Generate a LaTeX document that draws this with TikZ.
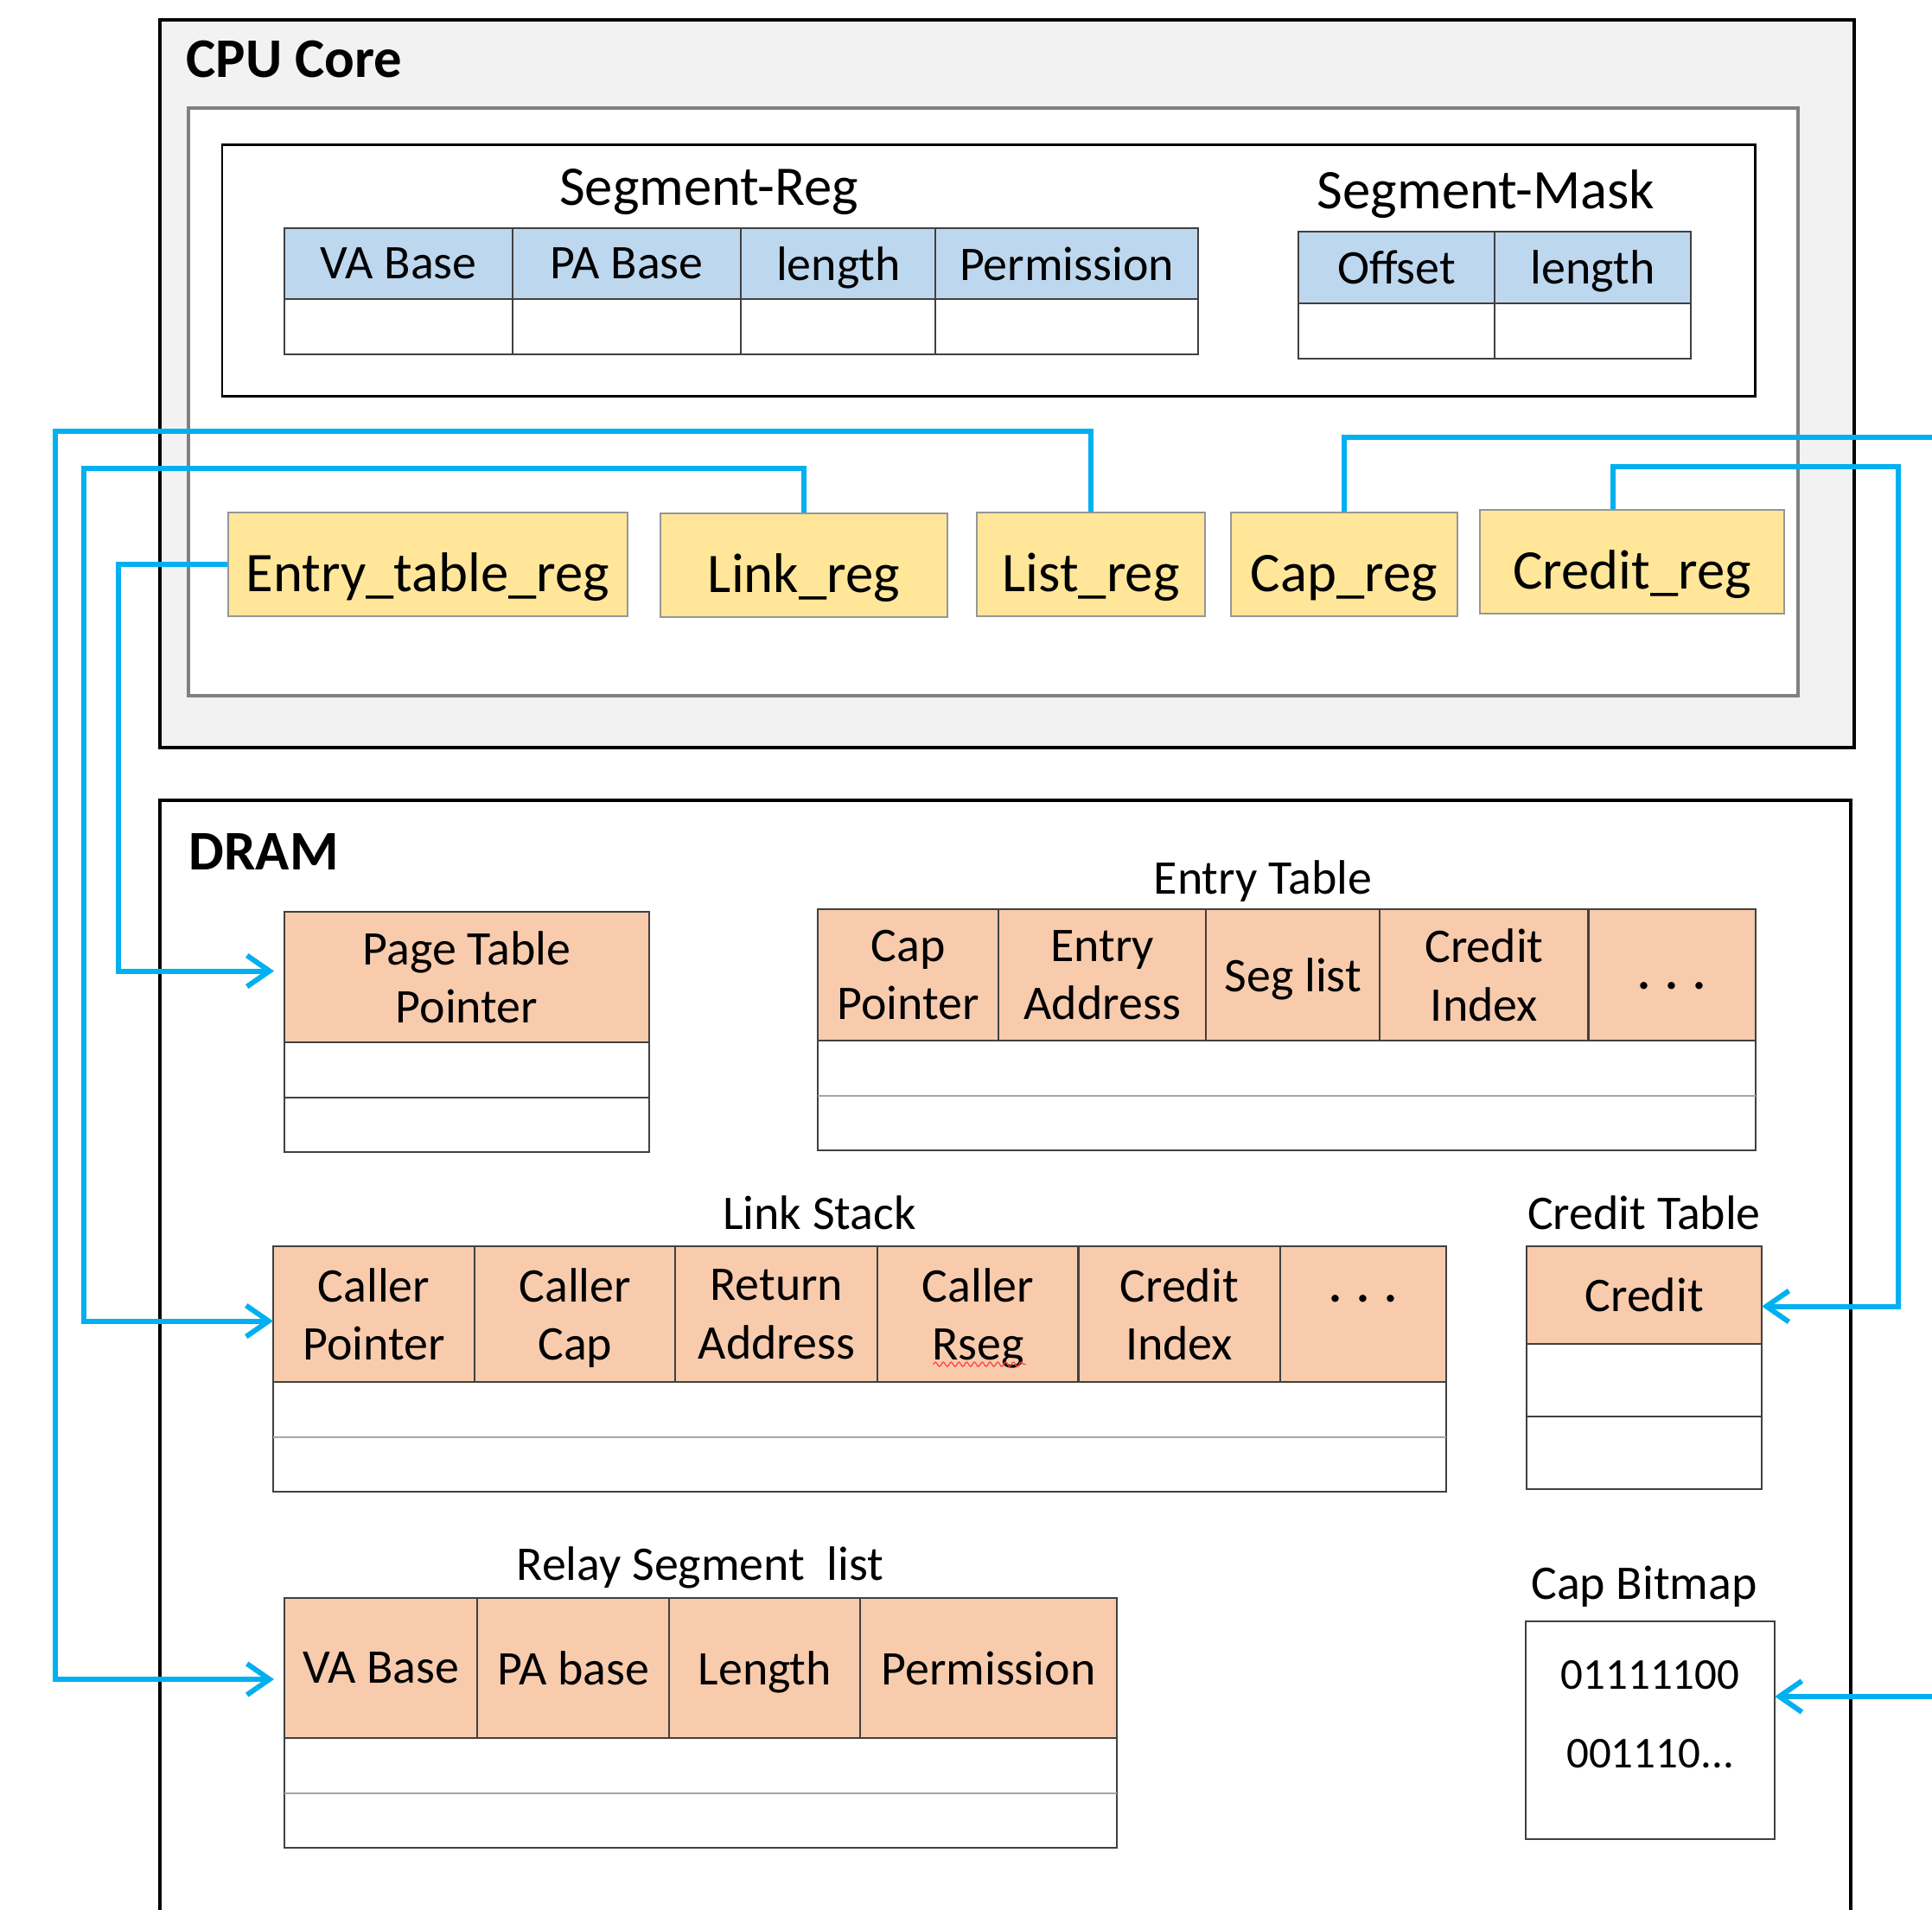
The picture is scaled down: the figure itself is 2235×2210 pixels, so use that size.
\documentclass[tikz,border=0pt]{standalone}
\usepackage{fontspec}
\setmainfont{Carlito}
\usetikzlibrary{positioning,calc,arrows.meta,decorations.pathmorphing}
\definecolor{corefill}{RGB}{242,242,242}
\definecolor{framegray}{RGB}{128,128,128}
\definecolor{cellline}{RGB}{64,64,64}
\definecolor{rowgray}{RGB}{165,165,165}
\definecolor{hdrblue}{RGB}{189,215,238}
\definecolor{hdrorange}{RGB}{248,203,173}
\definecolor{regyellow}{RGB}{255,230,153}
\definecolor{reggray}{RGB}{150,150,150}
\definecolor{wirecyan}{RGB}{0,176,240}

\newcommand{\bigsize}{\fontsize{18.4}{22}\selectfont}
\newcommand{\cellsize}{\fontsize{15.9}{19.1}\selectfont}
\newcommand{\bitsize}{\fontsize{14.5}{25.9}\selectfont}

\begin{document}
\begin{tikzpicture}[
    x=0.01cm, y=-0.01cm,
    cell/.style={rectangle, draw=cellline, fill=white, line width=0.6pt,
                 inner sep=0pt, outer sep=0pt, align=center,
                 text depth=0pt, font=\cellsize},
    hdr/.style={cell, fill=#1},
    regbox/.style={rectangle, draw=reggray, fill=regyellow, line width=0.6pt,
                   inner sep=0pt, minimum height=1.2cm,
                   text height=1.8em, text depth=0pt, font=\bigsize},
    title/.style={anchor=base west, inner sep=0pt, font=\bigsize\bfseries},
    caption/.style={anchor=base, inner sep=0pt, font=\bigsize},
    tcaption/.style={anchor=base, inner sep=0pt, font=\cellsize},
    rowline/.style={draw=rowgray, line width=0.6pt},
    wire/.style={draw=wirecyan, line width=1.7pt},
    feed/.style={wire, -{Straight Barb[length=0.26cm, width=0.36cm]}},
    squiggle/.style={draw=red!75, line width=0.35pt, decorate,
                     decoration={snake, amplitude=0.25mm, segment length=0.9mm}}
]
\useasboundingbox (0,0) rectangle (2235,2210);

% ---------------- CPU core ----------------
\draw[fill=corefill, line width=0.9pt] (185,23) rectangle (2145,865);
\node[title] (cpuTitle) at (215,90) {CPU Core};
\draw[fill=white, draw=framegray, line width=1.2pt] (218,125) rectangle (2080,805);
\draw[line width=0.85pt] (257,168) rectangle (2030,459);

% segment register
\node[caption] (srTitle) at (820,238) {Segment-Reg};
\node[hdr=hdrblue, anchor=north west, minimum width=2.64cm, minimum height=0.82cm] (srVA) at (329,264) {VA Base};
\node[hdr=hdrblue, minimum width=2.64cm, minimum height=0.82cm, right=0pt of srVA] (srPA) {PA Base};
\node[hdr=hdrblue, minimum width=2.25cm, minimum height=0.82cm, right=0pt of srPA] (srLen) {length};
\node[hdr=hdrblue, minimum width=3.03cm, minimum height=0.82cm, right=0pt of srLen] (srPerm) {Permission};
\node[cell, minimum width=2.64cm, minimum height=0.64cm, below=0pt of srVA] (srVA1) {};
\node[cell, minimum width=2.64cm, minimum height=0.64cm, below=0pt of srPA] (srPA1) {};
\node[cell, minimum width=2.25cm, minimum height=0.64cm, below=0pt of srLen] (srLen1) {};
\node[cell, minimum width=3.03cm, minimum height=0.64cm, below=0pt of srPerm] (srPerm1) {};

% segment mask
\node[caption] (smTitle) at (1719,242) {Segment-Mask};
\node[hdr=hdrblue, anchor=north west, minimum width=2.27cm, minimum height=0.83cm] (smOff) at (1502,268) {Offset};
\node[hdr=hdrblue, minimum width=2.27cm, minimum height=0.83cm, right=0pt of smOff] (smLen) {length};
\node[cell, minimum width=2.27cm, minimum height=0.64cm, below=0pt of smOff] (smOff1) {};
\node[cell, minimum width=2.27cm, minimum height=0.64cm, below=0pt of smLen] (smLen1) {};

% registers
\node[regbox, minimum width=4.62cm] (etr) at (495,653) {Entry\_table\_reg};
\node[regbox, minimum width=3.31cm] (lnk) at (930,654) {Link\_reg};
\node[regbox, minimum width=2.63cm] (lst) at (1262,653) {List\_reg};
\node[regbox, minimum width=2.62cm] (cap) at (1555,653) {Cap\_reg};
\node[regbox, minimum width=3.51cm] (crd) at (1888,650) {Credit\_reg};

% ---------------- DRAM ----------------
\draw[line width=0.9pt] (185,2210) |- (2141,926) -- (2141,2210);
\node[title] (dramTitle) at (218,1007) {DRAM};

% page table
\node[hdr=hdrorange, anchor=north west, minimum width=4.22cm, minimum height=1.51cm] (pgtHead) at (329,1055) {Page Table\\Pointer};
\node[cell, minimum width=4.22cm, minimum height=0.64cm, below=0pt of pgtHead] (pgt1) {};
\node[cell, minimum width=4.22cm, minimum height=0.63cm, below=0pt of pgt1] (pgt2) {};

% entry table
\node[tcaption] (etTitle) at (1461,1035) {Entry Table};
\node[hdr=hdrorange, anchor=north west, minimum width=2.09cm, minimum height=1.52cm] (etCap) at (946,1052) {Cap\\Pointer};
\node[hdr=hdrorange, minimum width=2.40cm, minimum height=1.52cm, right=0pt of etCap] (etAddr) {Entry\\Address};
\node[hdr=hdrorange, minimum width=2.01cm, minimum height=1.52cm, right=0pt of etAddr] (etSeg) {Seg list};
\node[hdr=hdrorange, minimum width=2.41cm, minimum height=1.52cm, right=0pt of etSeg] (etCred) {Credit\\Index};
\node[hdr=hdrorange, minimum width=1.93cm, minimum height=1.52cm, text height=0.32cm, right=0pt of etCred] (etMore) {\textbf{. . .}};
\node[cell, anchor=north west, minimum width=10.84cm, minimum height=1.27cm] (etBody) at (etCap.south west) {};
\draw[rowline] (etBody.west) -- (etBody.east);

% link stack
\node[tcaption] (lsTitle) at (948,1423) {Link Stack};
\node[hdr=hdrorange, anchor=north west, minimum width=2.33cm, minimum height=1.57cm] (lsCP) at (316,1442) {Caller\\Pointer};
\node[hdr=hdrorange, minimum width=2.32cm, minimum height=1.57cm, right=0pt of lsCP] (lsCC) {Caller\\Cap};
\node[hdr=hdrorange, minimum width=2.34cm, minimum height=1.57cm, right=0pt of lsCC] (lsRA) {Return\\Address};
\node[hdr=hdrorange, minimum width=2.32cm, minimum height=1.57cm, right=0pt of lsRA] (lsRseg) {Caller\\Rseg};
\node[hdr=hdrorange, minimum width=2.33cm, minimum height=1.57cm, right=0pt of lsRseg] (lsCI) {Credit\\Index};
\node[hdr=hdrorange, minimum width=1.92cm, minimum height=1.57cm, text height=0pt, text depth=0.28cm, right=0pt of lsCI] (lsMore) {\textbf{. . .}};
\node[cell, anchor=north west, minimum width=13.56cm, minimum height=1.27cm] (lsBody) at (lsCP.south west) {};
\draw[rowline] (lsBody.west) -- (lsBody.east);
\draw[squiggle] ([xshift=-0.52cm, yshift=-0.58cm]lsRseg.center) -- ++(1.07cm,0);

% credit table
\node[tcaption] (ctTitle) at (1902,1423) {Credit Table};
\node[hdr=hdrorange, anchor=north west, minimum width=2.72cm, minimum height=1.13cm] (ctHead) at (1766,1442) {Credit};
\node[cell, minimum width=2.72cm, minimum height=0.84cm, below=0pt of ctHead] (ct1) {};
\node[cell, minimum width=2.72cm, minimum height=0.84cm, below=0pt of ct1] (ct2) {};

% relay segment list
\node[tcaption] (rlTitle) at (810,1829) {Relay Segment\ \ list};
\node[hdr=hdrorange, anchor=north west, minimum width=2.23cm, minimum height=1.62cm] (rlVA) at (329,1849) {VA Base};
\node[hdr=hdrorange, minimum width=2.22cm, minimum height=1.62cm, right=0pt of rlVA] (rlPA) {PA base};
\node[hdr=hdrorange, minimum width=2.21cm, minimum height=1.62cm, right=0pt of rlPA] (rlLen) {Length};
\node[hdr=hdrorange, minimum width=2.96cm, minimum height=1.62cm, right=0pt of rlLen] (rlPerm) {Permission};
\node[cell, anchor=north west, minimum width=9.62cm, minimum height=1.27cm] (rlBody) at (rlVA.south west) {};
\draw[rowline] (rlBody.west) -- (rlBody.east);

% cap bitmap
\node[tcaption] (bmpTitle) at (1902,1850) {Cap Bitmap};
\node[cell, anchor=north west, minimum width=2.88cm, minimum height=2.52cm] (bmp) at (1765,1876) {};
\node[inner sep=0pt, align=center, font=\bitsize, below=0.45cm of bmp.north] (bmpBits) {01111100\\001110...};

% ---------------- wires ----------------
\coordinate (capOut) at (2235,506);
\coordinate (bmpIn) at (2235,1963);

\draw[feed, shorten >=0.12cm] (etr.west) -- ++(-126,0) |- ([yshift=0.07cm]pgtHead.west);
\draw[feed] (lnk.north) |- (97,542) |- ([yshift=-0.08cm]lsCP.west);
\draw[feed, shorten >=0.12cm] (lst.north) |- (64,499) |- ([yshift=-0.13cm]rlVA.west);
\draw[wire] (cap.north) |- (capOut);
\draw[feed] ([xshift=-0.22cm]crd.north) |- (2196,540) |- ([yshift=-0.13cm]ctHead.east);
\draw[feed] (bmpIn) -- (bmp.east |- bmpIn);

\end{tikzpicture}
\end{document}
